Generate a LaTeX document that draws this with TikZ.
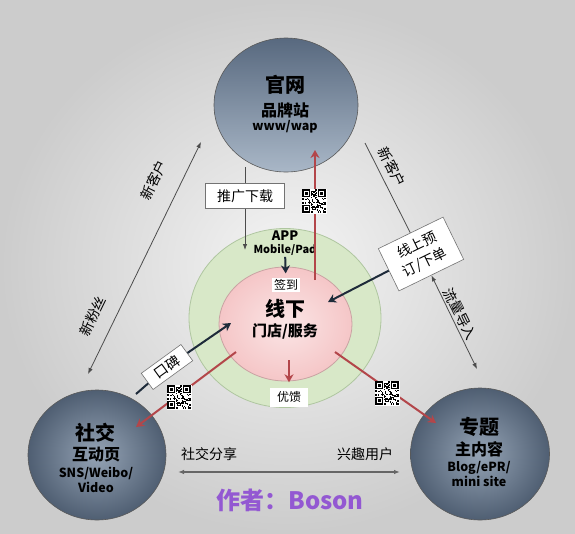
\documentclass[tikz,border=0pt]{standalone}
\usepackage{fontspec}
\setmainfont{Noto Sans CJK SC}
\usetikzlibrary{shapes.geometric,arrows.meta}
\definecolor{navy}{HTML}{1E2B3A}
\definecolor{redline}{HTML}{B3464A}
\definecolor{ringgreen}{HTML}{D8E8C8}
\definecolor{ringedge}{HTML}{AFC6A0}
\definecolor{pinkfill}{HTML}{F5C6C7}
\definecolor{pinkedge}{HTML}{C9A3A3}
\definecolor{bluedark}{HTML}{58697F}
\definecolor{bluelight}{HTML}{A9B7C7}
\definecolor{purpletext}{HTML}{9358D2}
\tikzset{
	bubble/.style={ellipse, draw=black!65, line width=0.6pt, inner sep=0pt},
	bigtitle/.style={font=\bfseries\fontsize{20}{22}\selectfont},
	subtitle/.style={font=\bfseries\fontsize{16}{18}\selectfont},
	latin/.style={font=\bfseries\fontsize{12.5}{15}\selectfont},
	remark/.style={font=\fontsize{14}{16}\selectfont, inner sep=1pt},
	tagbox/.style={draw=black!55, fill=white, line width=0.6pt, inner sep=2pt, font=\fontsize{14}{19}\selectfont},
	spot/.style={fill=white, inner sep=2pt, font=\fontsize{12}{14}\selectfont},
	flow/.style={draw=black!70, line width=0.8pt, >={Latex[length=6pt,width=4.5pt]}},
	navyarrow/.style={draw=navy, line width=2pt, -{Stealth[length=8pt,width=9pt,inset=2.5pt]}},
	redarrow/.style={draw=redline, line width=2pt, -{Stealth[length=8pt,width=9pt,inset=2.5pt]}},
	qrcode/.pic={
		\fill[white] (-12.5pt,-12.5pt) rectangle (12.5pt,12.5pt);
		\pgfmathsetseed{1234}
		\foreach \i in {0,...,20}
		\foreach \j in {0,...,20}{
			\pgfmathtruncatemacro\qrbit{(rnd<0.5)&&!((\i<8&&\j<8)||(\i>12&&\j<8)||(\i<8&&\j>12))}
			\ifnum\qrbit=1
			\fill (-11.55pt+\i*1.1pt,11.55pt-\j*1.1pt) rectangle ++(1.1pt,-1.1pt);
			\fi
		}
		\foreach \a/\b in {-11.55/11.55, 3.85/11.55, -11.55/-3.85}{
			\fill (\a pt,\b pt) rectangle ++(7.7pt,-7.7pt);
			\fill[white] (\a pt+1.1pt,\b pt-1.1pt) rectangle ++(5.5pt,-5.5pt);
			\fill (\a pt+2.2pt,\b pt-2.2pt) rectangle ++(3.3pt,-3.3pt);
		}
	}
}
\begin{document}
\begin{tikzpicture}[x=1pt,y=-1pt]
	%background
	\fill[inner color=white!96!black, outer color=white!80!black] (0,0) rectangle (575,533);
	\useasboundingbox (0,0) rectangle (575,533);
	%circles
	\node[bubble, top color=bluedark, bottom color=bluelight, minimum width=144pt, minimum height=134pt] (web) at (286,105) {};
	\node[bubble, inner color=bluelight!75!bluedark, outer color=bluedark!90!black, minimum width=138pt, minimum height=130pt] (social) at (97,455) {};
	\node[bubble, inner color=bluelight!75!bluedark, outer color=bluedark!90!black, minimum width=139pt, minimum height=132pt] (topic) at (480,454) {};
	\node[ellipse, draw=ringedge, fill=ringgreen, line width=0.8pt, minimum width=192pt, minimum height=179pt] (ring) at (285,318) {};
	\node[ellipse, draw=pinkedge, inner color=pinkfill!45!white, outer color=pinkfill, line width=0.8pt, minimum width=133pt, minimum height=114pt] (offline) at (285.5,324) {};
	%texts
	\node[bigtitle] (webname) at (285,85) {官网};
	\node[subtitle] (websub) at (285,110) {品牌站};
	\node[latin] (weburl) at (285,127) {www/wap};
	\node[bigtitle] (socialname) at (95,433) {社交};
	\node[subtitle] (socialsub) at (96,455) {互动页};
	\node[latin, align=center] (socialurl) at (96,480) {SNS/Weibo/\\Video};
	\node[bigtitle] (topicname) at (479,427) {专题};
	\node[subtitle] (topicsub) at (479,449) {主内容};
	\node[latin, align=center] (topicurl) at (479,474) {Blog/ePR/\\mini site};
	\node[latin, font=\bfseries\fontsize{13}{15}\selectfont] (app) at (285,236) {APP};
	\node[latin, font=\bfseries\fontsize{11}{13}\selectfont, inner sep=1pt] (device) at (285,250) {Mobile/Pad};
	\node[spot] (checkin) at (286,285) {签到};
	\node[bigtitle] (offlinename) at (285,309) {线下};
	\node[subtitle, font=\bfseries\fontsize{15}{17}\selectfont] (store) at (285,331) {门店/服务};
	\node[spot, minimum width=38pt, minimum height=19pt] (feedback) at (289,397) {优馈};
	%boxes
	\node[tagbox, minimum width=79pt, minimum height=25pt] (promo) at (245,196) {推广下载};
	\node[tagbox, rotate=36, minimum width=49pt, minimum height=20pt] (wom) at (167,367) {口碑};
	\node[tagbox, rotate=26, align=center, minimum width=72pt, minimum height=47pt] (order) at (421,254) {线上预\\订/下单};
	%ends
	\coordinate (webLeft) at (201,142);
	\coordinate (socialTop) at (88,374);
	\coordinate (webRight) at (365,143);
	\coordinate (topicTop) at (477,369);
	\coordinate (shareLeft) at (178,472);
	\coordinate (shareRight) at (400,472);
	\coordinate (promoTop) at (245,167);
	\coordinate (promoEnd) at (245,250);
	\coordinate (womStart) at (136,394);
	\coordinate (womEnd) at (231,323);
	\coordinate (orderEnd) at (328,302);
	\coordinate (redUpStart) at (315,280);
	\coordinate (redUpEnd) at (315,150);
	\coordinate (redLeftStart) at (236,352);
	\coordinate (redLeftEnd) at (136,427);
	\coordinate (redRightStart) at (335,352);
	\coordinate (redRightEnd) at (436,423);
	\coordinate (redDownStart) at (289,360);
	%connectors
	\draw[flow,<->] (webLeft) -- (socialTop);
	\draw[flow,<->] (webRight) -- (order) -- (topicTop);
	\draw[flow,<->, line width=1.4pt, draw=black!60] (shareLeft) -- (shareRight);
	\draw[flow,->] (promoTop) -- (promo) -- (promoEnd);
	\draw[navyarrow] (womStart) -- (wom) -- (womEnd);
	\draw[navyarrow] (order) -- (orderEnd);
	\draw[navyarrow, shorten >=4pt] (device) -- (checkin);
	\draw[redarrow] (redUpStart) -- (redUpEnd);
	\draw[redarrow] (redLeftStart) -- (redLeftEnd);
	\draw[redarrow] (redRightStart) -- (redRightEnd);
	\draw[redarrow, shorten >=5pt] (redDownStart) -- (feedback);
	%qr codes
	\pic at (314,201) {qrcode};
	\pic at (387,393) {qrcode};
	\pic at (179,397) {qrcode};
	%labels
	\node[remark, rotate=64] (newcustL) at (154,180) {新客户};
	\node[remark, rotate=64] (newfans) at (93,316) {新粉丝};
	\node[remark, rotate=-64] (newcustR) at (392,167) {新客户};
	\node[remark, rotate=-64] (traffic) at (460,314) {流量导入};
	\node[remark] (share) at (209,454) {社交分享};
	\node[remark] (interest) at (365,454) {兴趣用户};
	\node[text=purpletext, font=\bfseries\fontsize{24}{26}\selectfont] (author) at (290,500) {作者：Boson};
\end{tikzpicture}
\end{document}
